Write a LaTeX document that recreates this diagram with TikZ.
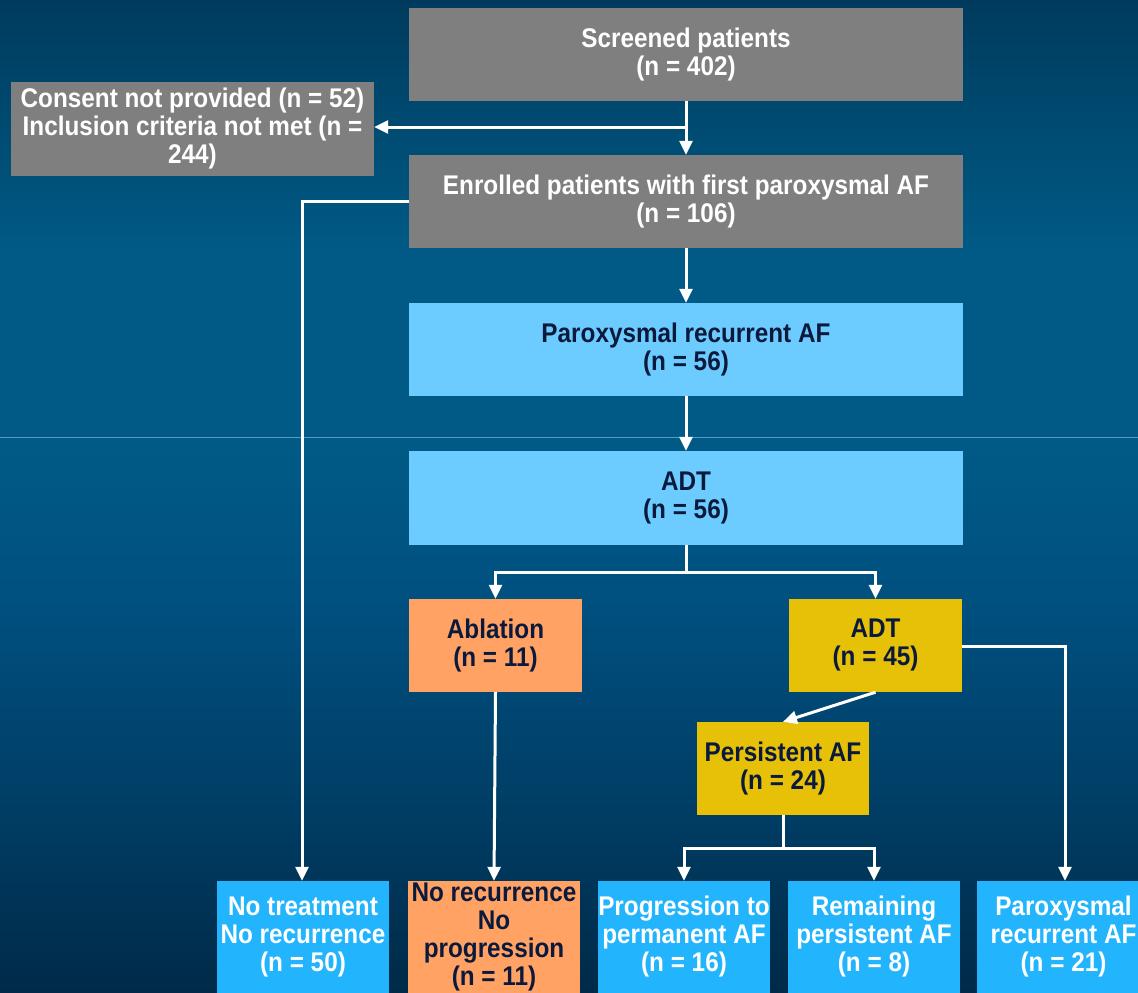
\documentclass[tikz,border=0pt]{standalone}
\usepackage{fontspec}
\setmainfont{Liberation Sans}[FakeStretch=0.9]
\usetikzlibrary{arrows.meta}
\definecolor{bg0}{HTML}{002A48}
\definecolor{bg1}{HTML}{003E66}
\definecolor{bg2}{HTML}{005080}
\definecolor{bg3}{HTML}{005A85}
\definecolor{bg4}{HTML}{003B5E}
\definecolor{gbox}{HTML}{7F7F7F}
\definecolor{lblue}{HTML}{6DCCFF}
\definecolor{orng}{HTML}{FFA264}
\definecolor{gold}{HTML}{E6C108}
\definecolor{bblue}{HTML}{22B4FC}
\definecolor{navy}{HTML}{0B1A3C}
\definecolor{hline}{HTML}{5A9AC2}
\tikzset{
  box/.style={rectangle, inner sep=0pt, align=center,
    font=\fontsize{27}{28}\selectfont\bfseries},
  graybox/.style={box, fill=gbox, text=white},
  lbbox/.style={box, fill=lblue, text=navy},
  orbox/.style={box, fill=orng, text=navy},
  gdbox/.style={box, fill=gold, text=navy},
  bbbox/.style={box, fill=bblue, text=white},
  conn/.style={draw=white, line width=3pt, -{Triangle[length=14pt,width=13pt]}},
  plain/.style={draw=white, line width=3pt}
}
\begin{document}
\begin{tikzpicture}[x=1pt,y=-1pt]
\useasboundingbox (0,0) rectangle (1138,993);
\begin{scope}[y=1pt]
\shade[top color=bg4, bottom color=bg3] (0,0) rectangle (1138,-251);
\fill[bg3] (0,-250) rectangle (1138,-451);
\shade[top color=bg3, bottom color=bg2] (0,-450) rectangle (1138,-601);
\shade[top color=bg2, bottom color=bg1] (0,-600) rectangle (1138,-801);
\shade[top color=bg1, bottom color=bg0] (0,-800) rectangle (1138,-993);
\end{scope}
\draw[hline, line width=1pt] (0,437) -- (1138,437);

\node[graybox, minimum width=554pt, minimum height=93pt] (scr) at (686,54.5) {Screened patients\\(n = 402)};
\node[graybox, minimum width=363pt, minimum height=94pt] (cons) at (192.5,129) {Consent not provided (n = 52)\\Inclusion criteria not met (n =\\244)};
\node[graybox, minimum width=554pt, minimum height=93pt] (enr) at (686,201.5) {Enrolled patients with first paroxysmal AF\\(n = 106)};
\node[lbbox, minimum width=554pt, minimum height=93pt] (par) at (686,349.5) {Paroxysmal recurrent AF\\(n = 56)};
\node[lbbox, minimum width=554pt, minimum height=94pt] (adt) at (686,498) {ADT\\(n = 56)};
\node[orbox, minimum width=173pt, minimum height=93pt] (abl) at (495.5,645.5) {Ablation\\(n = 11)};
\node[gdbox, minimum width=173pt, minimum height=93pt] (adt2) at (875.5,645.5) {ADT\\(n = 45)};
\node[gdbox, minimum width=172pt, minimum height=93pt] (pers) at (783,768.5) {Persistent AF\\(n = 24)};

\node[bbbox, minimum width=172pt, minimum height=112pt] (notr) at (303,937) {No treatment\\No recurrence\\(n = 50)};
\node[orbox, minimum width=172pt, minimum height=112pt] (norec) at (494,937) {No recurrence\\No\\progression\\(n = 11)};
\node[bbbox, minimum width=172pt, minimum height=112pt] (prog) at (684,937) {Progression to\\permanent AF\\(n = 16)};
\node[bbbox, minimum width=172pt, minimum height=112pt] (rem) at (874,937) {Remaining\\persistent AF\\(n = 8)};
\node[bbbox, minimum width=173pt, minimum height=112pt] (parx) at (1063.5,937) {Paroxysmal\\recurrent AF\\(n = 21)};

\coordinate (s1) at (686,127);
\coordinate (a1) at (686,572);
\coordinate (p1) at (783,848);
\coordinate (e1) at (302,201.5);
\coordinate (d1) at (1065,646);

\draw[conn] (scr.south) -- (enr.north);
\draw[conn] (s1) -- (s1 -| cons.east);
\draw[conn] (enr.west) -- (e1) -- (e1 |- notr.north);
\draw[conn] (enr.south) -- (par.north);
\draw[conn] (par.south) -- (adt.north);
\draw[plain] (adt.south) -- (a1);
\draw[conn] (a1) -| (abl.north);
\draw[conn] (a1) -| (adt2.north);
\draw[conn] (abl.south) -- (norec.north);
\draw[conn] (adt2.south) -- (pers.north);
\draw[conn] (adt2.east |- d1) -- (d1) -- (d1 |- parx.north);
\draw[plain] (pers.south) -- (p1);
\draw[conn] (p1) -| (prog.north);
\draw[conn] (p1) -| (rem.north);
\end{tikzpicture}
\end{document}
